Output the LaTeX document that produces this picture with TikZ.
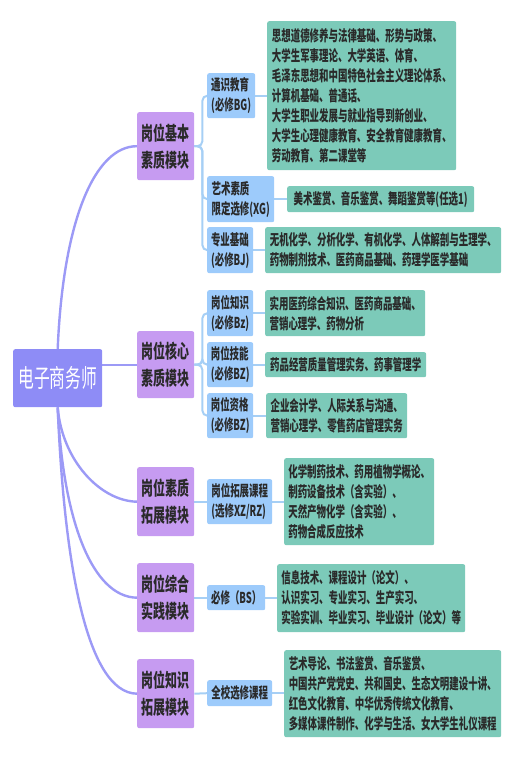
\documentclass[tikz,border=0pt]{standalone}
\usepackage{fontspec}
\usetikzlibrary{backgrounds}
\newfontfamily\cjk[FakeStretch=0.63]{Noto Sans CJK SC}
\definecolor{rootfill}{HTML}{8E8CF6}
\definecolor{rootline}{HTML}{9C9AF6}
\definecolor{lonefill}{HTML}{C69BF1}
\definecolor{ltwofill}{HTML}{9DCBFB}
\definecolor{lthreefill}{HTML}{7CCAB9}
\definecolor{branchline}{HTML}{A6CFF5}
\definecolor{textc}{HTML}{2A2A2A}
\begin{document}
\begin{tikzpicture}[x=1pt,y=-1pt,
  box/.style={rounded corners=2pt, inner sep=3pt, anchor=north west, text=textc},
  rootbox/.style={box, fill=rootfill, text=white, align=center,
    font=\cjk\fontsize{25}{28}\selectfont},
  lonebox/.style={box, fill=lonefill, align=center,
    font=\cjk\bfseries\fontsize{19}{27}\selectfont},
  ltwobox/.style={box, fill=ltwofill, align=left,
    font=\cjk\bfseries\fontsize{15}{20}\selectfont},
  lthreebox/.style={box, fill=lthreefill, align=left,
    font=\cjk\bfseries\fontsize{15}{20}\selectfont},
  rootlink/.style={draw=rootline, line width=2.4pt},
  branchlink/.style={draw=branchline, line width=2pt, rounded corners=5pt}
]
\useasboundingbox (0,0) rectangle (514,758);

% root
\node[rootbox, minimum width=89pt, minimum height=58pt] (root) at (13,349) {电子商务师};

% level 1
\node[lonebox, minimum width=57pt, minimum height=68pt] (A1) at (137,112) {岗位基本\\素质模块};
\node[lonebox, minimum width=57pt, minimum height=67pt] (A2) at (137,331) {岗位核心\\素质模块};
\node[lonebox, minimum width=57pt, minimum height=69pt] (A3) at (137,467) {岗位素质\\拓展模块};
\node[lonebox, minimum width=57pt, minimum height=69pt] (A4) at (137,563) {岗位综合\\实践模块};
\node[lonebox, minimum width=57pt, minimum height=69pt] (A5) at (137,659) {岗位知识\\拓展模块};

% level 2
\node[ltwobox, minimum width=48pt, minimum height=45pt] (B1) at (207,73) {通识教育\\(必修BG)};
\node[ltwobox, minimum width=67pt, minimum height=46pt] (B2) at (207,176) {艺术素质\\限定选修(XG)};
\node[ltwobox, minimum width=46pt, minimum height=46pt] (B3) at (207,227) {专业基础\\(必修BJ)};
\node[ltwobox, minimum width=46pt, minimum height=46pt] (B4) at (207,290) {岗位知识\\(必修Bz)};
\node[ltwobox, minimum width=46pt, minimum height=45pt] (B5) at (207,342) {岗位技能\\(必修BZ)};
\node[ltwobox, minimum width=46pt, minimum height=45pt] (B6) at (207,393) {岗位资格\\(必修BZ)};
\node[ltwobox, minimum width=65pt, minimum height=45pt] (B7) at (207,479) {岗位拓展课程\\(选修XZ/RZ)};
\node[ltwobox, minimum width=58pt, minimum height=25pt] (B8) at (207,585) {必修（BS）};
\node[ltwobox, minimum width=65pt, minimum height=26pt] (B9) at (207,680) {全校选修课程};

% level 3
\node[lthreebox, minimum width=189pt, minimum height=149pt] (C1) at (267,21)
  {思想道德修养与法律基础、形势与政策、\\大学生军事理论、大学英语、体育、\\毛泽东思想和中国特色社会主义理论体系、\\计算机基础、普通话、\\大学生职业发展与就业指导到新创业、\\大学生心理健康教育、安全教育健康教育、\\劳动教育、第二课堂等};
\node[lthreebox, minimum width=187pt, minimum height=26pt] (C2) at (287,186)
  {美术鉴赏、音乐鉴赏、舞蹈鉴赏等(任选1)};
\node[lthreebox, minimum width=236pt, minimum height=46pt] (C3) at (265,227)
  {无机化学、分析化学、有机化学、人体解剖与生理学、\\药物制剂技术、医药商品基础、药理学医学基础};
\node[lthreebox, minimum width=160pt, minimum height=46pt] (C4) at (265,290)
  {实用医药综合知识、医药商品基础、\\营销心理学、药物分析};
\node[lthreebox, minimum width=161pt, minimum height=25pt] (C5) at (265,352)
  {药品经营质量管理实务、药事管理学};
\node[lthreebox, minimum width=141pt, minimum height=45pt] (C6) at (266,393)
  {企业会计学、人际关系与沟通、\\营销心理学、零售药店管理实务};
\node[lthreebox, minimum width=150pt, minimum height=87pt] (C7) at (284,458)
  {化学制药技术、药用植物学概论、\\制药设备技术（含实验）、\\天然产物化学（含实验）、\\药物合成反应技术};
\node[lthreebox, minimum width=188pt, minimum height=68pt] (C8) at (277,564)
  {信息技术、课程设计（论文）、\\认识实习、专业实习、生产实习、\\实验实训、毕业实习、毕业设计（论文）等};
\node[lthreebox, minimum width=217pt, minimum height=87pt] (C9) at (284,650)
  {艺术导论、书法鉴赏、音乐鉴赏、\\中国共产党党史、共和国史、生态文明建设十讲、\\红色文化教育、中华优秀传统文化教育、\\多媒体课件制作、化学与生活、女大学生礼仪课程};

\begin{scope}[on background layer]
% root to level 1
\draw[rootlink] (root.north) .. controls (63,220) and (95,146) .. (A1.west);
\draw[rootlink] (root.east |- A2.west) -- (A2.west);
\draw[rootlink] (root.south) .. controls (62,460) and (100,501) .. (A3.west);
\draw[rootlink] (root.south) .. controls (63,520) and (92,597) .. (A4.west);
\draw[rootlink] (root.south) .. controls (64,560) and (86,693) .. (A5.west);
% level 1 to level 2
\foreach \b in {B1,B2,B3} \draw[branchlink] (A1.east) -- ++(8,0) |- (\b.west);
\foreach \b in {B4,B5,B6} \draw[branchlink] (A2.east) -- ++(8,0) |- (\b.west);
\draw[branchlink] (A3.east) -- (B7.west);
\draw[branchlink] (A4.east) -- (B8.west);
\draw[branchlink] (A5.east) -- (B9.west);
% level 2 to level 3
\draw[branchlink] (B1.east) -- (B1.east -| C1.west);
\draw[branchlink] (B2.east) -- (B2.east -| C2.west);
\draw[branchlink] (B3.east) -- (B3.east -| C3.west);
\draw[branchlink] (B4.east) -- (B4.east -| C4.west);
\draw[branchlink] (B5.east) -- (B5.east -| C5.west);
\draw[branchlink] (B6.east) -- (B6.east -| C6.west);
\draw[branchlink] (B7.east) -- (B7.east -| C7.west);
\draw[branchlink] (B8.east) -- (B8.east -| C8.west);
\draw[branchlink] (B9.east) -- (B9.east -| C9.west);
\end{scope}
\end{tikzpicture}
\end{document}
